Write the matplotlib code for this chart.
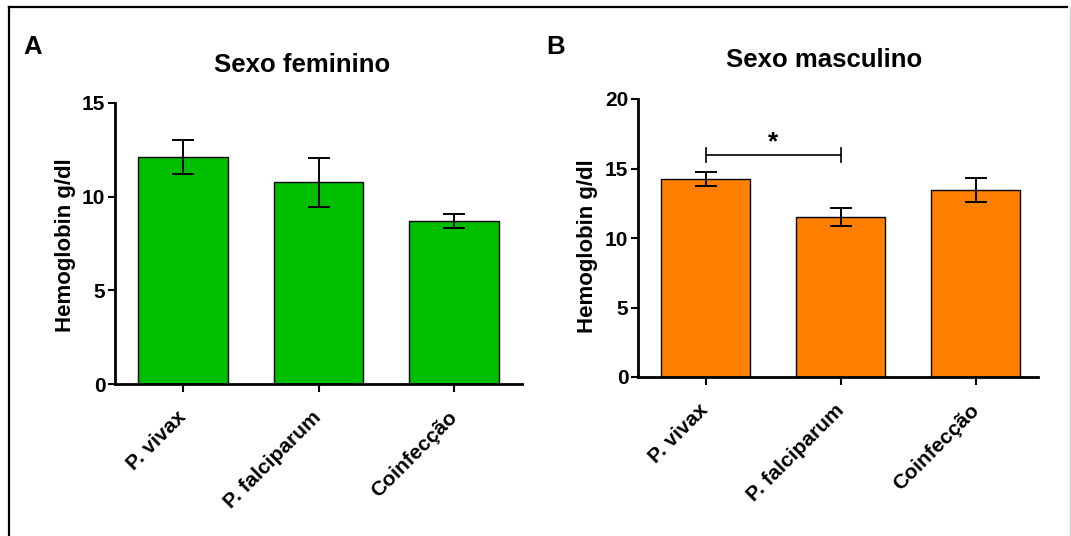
import matplotlib
matplotlib.use("Agg")
from matplotlib import pyplot as plt
from matplotlib.lines import Line2D

plt.rcParams['font.family'] = ['Liberation Sans', 'DejaVu Sans']
plt.rcParams['font.weight'] = 'bold'

# Hemoglobin by infection group
groups = ['P. vivax', 'P. falciparum', 'Coinfecção']

fem_mean = [12.1, 10.77, 8.7]
fem_err = [0.9, 1.3, 0.35]

masc_mean = [14.22, 11.5, 13.45]
masc_err = [0.5, 0.67, 0.85]

W, H = 1071, 536
fig = plt.figure(figsize=(W / 100, H / 100), dpi=100)


def px(x, y):
    # pixel coords (top-left origin) -> figure fraction
    return x / W, 1 - y / H


def panel(rect, means, errs, color, ymax, yticks, xmax):
    ax = fig.add_axes(rect)
    x = range(len(groups))
    ax.bar(x, means, width=0.66, color=color, edgecolor='black', linewidth=1.0, zorder=2)
    ax.errorbar(x, means, yerr=errs, fmt='none', ecolor='black', elinewidth=1.4,
                capsize=8, capthick=1.4, zorder=3)
    ax.set_xlim(-0.5, xmax)
    ax.set_ylim(0, ymax)
    ax.set_yticks(yticks)
    ax.set_xticks(list(x))
    ax.set_xticklabels(groups, rotation=45, ha='right', va='center',
                       rotation_mode='anchor', fontsize=15, fontweight='bold')
    for lab in ax.get_yticklabels():
        lab.set_fontsize(15)
        lab.set_fontweight('bold')
    for s in ['top', 'right']:
        ax.spines[s].set_visible(False)
    for s in ['left', 'bottom']:
        ax.spines[s].set_linewidth(2.0)
    ax.tick_params(axis='y', length=5, width=1.5, pad=2)
    ax.tick_params(axis='x', length=6, width=1.5, pad=16)
    return ax


axA = panel([115 / W, 1 - 384 / H, 407 / W, 281 / H], fem_mean, fem_err,
            '#00bf00', 15, [0, 5, 10, 15], 2.5)
axB = panel([638 / W, 1 - 377 / H, 400 / W, 278 / H], masc_mean, masc_err,
            '#ff8000', 20, [0, 5, 10, 15, 20], 2.46)

# significance bracket
axB.plot([0, 1], [15.97, 15.97], color='black', lw=1.2, zorder=3)
axB.plot([0, 0], [15.5, 16.45], color='black', lw=1.2, zorder=3)
axB.plot([1, 1], [15.5, 16.45], color='black', lw=1.2, zorder=3)
axB.text(0.5, 16.0, '*', ha='center', va='bottom', fontsize=19, fontweight='bold')

# y labels
fig.text(*px(66, 245), 'Hemoglobin g/dl', rotation=90, ha='center', va='center',
         fontsize=16, fontweight='bold')
fig.text(*px(588, 246), 'Hemoglobin g/dl', rotation=90, ha='center', va='center',
         fontsize=16, fontweight='bold')

# titles
fig.text(*px(302, 72), 'Sexo feminino', ha='center', va='baseline',
         fontsize=18.5, fontweight='bold')
fig.text(*px(824, 67), 'Sexo masculino', ha='center', va='baseline',
         fontsize=18.5, fontweight='bold')

# panel letters
fig.text(*px(23, 54), 'A', ha='left', va='baseline', fontsize=18.5, fontweight='bold')
fig.text(*px(546, 54), 'B', ha='left', va='baseline', fontsize=18.5, fontweight='bold')

# frame
fig.add_artist(Line2D([8.5 / W, 8.5 / W], [0, 1 - 6.5 / H], color='black', lw=1.6,
                      transform=fig.transFigure))
fig.add_artist(Line2D([8.5 / W, 1067 / W], [1 - 6.5 / H, 1 - 6.5 / H], color='black',
                      lw=1.6, transform=fig.transFigure))
fig.add_artist(Line2D([1069.5 / W, 1069.5 / W], [0, 1 - 7 / H], color='#d0d0d0', lw=1,
                      transform=fig.transFigure))

plt.savefig('out.png', dpi=100)
